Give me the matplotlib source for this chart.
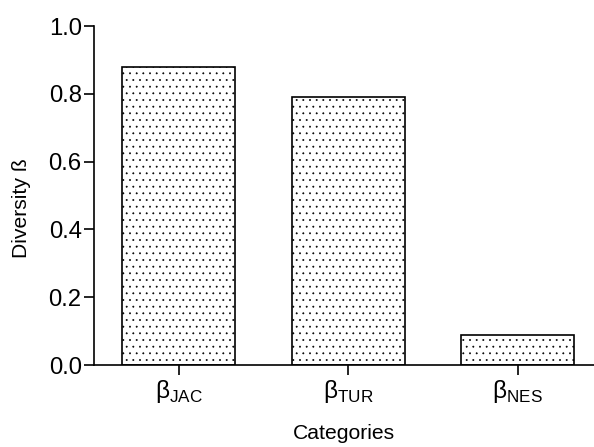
import matplotlib
matplotlib.use('Agg')
import matplotlib.pyplot as plt

plt.rcParams['font.family'] = ['Liberation Sans', 'DejaVu Sans']
plt.rcParams['mathtext.fontset'] = 'custom'
plt.rcParams['mathtext.rm'] = 'Liberation Sans'
plt.rcParams['hatch.color'] = '#444444'
plt.rcParams['hatch.linewidth'] = 0.5

# data
categories = ['JAC', 'TUR', 'NES']
values = [0.88, 0.79, 0.09]
y_ticks = [0.0, 0.2, 0.4, 0.6, 0.8, 1.0]

fig = plt.figure(figsize=(7.425, 5.5875), dpi=80)
ax = fig.add_axes([0.1582, 0.1834, 0.8418, 0.7584])

x = list(range(len(categories)))
ax.bar(x, values, width=0.667, color='white', edgecolor='black',
       linewidth=1.5, hatch='..')

ax.set_xlim(-0.5, 2.45)
ax.set_ylim(0, 1.0)
ax.set_yticks(y_ticks)
ax.set_yticklabels(['%.1f' % v for v in y_ticks], fontsize=21.5)
ax.set_xticks(x)
ax.set_xticklabels([r'$\mathrm{\beta}_{\mathrm{%s}}$' % c for c in categories], fontsize=22)

ax.spines['top'].set_visible(False)
ax.spines['right'].set_visible(False)
ax.spines['left'].set_linewidth(1.5)
ax.spines['bottom'].set_linewidth(1.5)
ax.tick_params(axis='both', direction='out', length=9, width=1.5, pad=2)
ax.tick_params(axis='x', pad=3)

ax.set_ylabel('Diversity ß', fontsize=19)
ax.yaxis.set_label_coords(-0.125, 0.463)
ax.set_xlabel('Categories', fontsize=19, labelpad=17)

plt.savefig('out.png', dpi=80)
plt.close()
